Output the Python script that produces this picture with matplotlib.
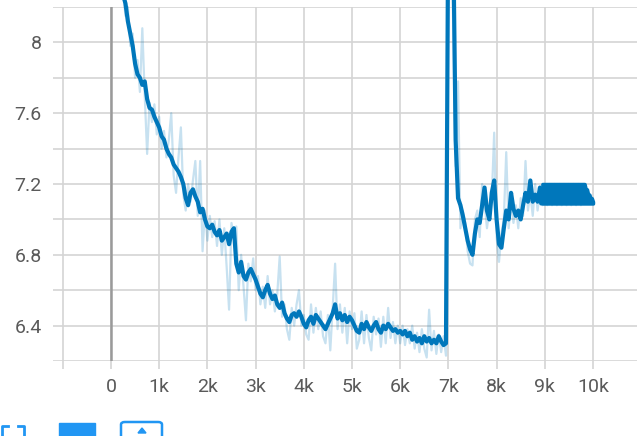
import matplotlib
matplotlib.use('Agg')
import matplotlib.pyplot as plt
from matplotlib.patches import Rectangle, FancyBboxPatch, Polygon
from matplotlib.lines import Line2D
import numpy as np

# smoothed curve, every 50 steps from 250 to 8900
smooth_a = [8.27, 8.22, 8.12, 8.05, 7.98, 7.88, 7.82, 7.80, 7.76, 7.78,
            7.68, 7.63, 7.62, 7.58, 7.55, 7.52, 7.47, 7.45, 7.40, 7.37,
            7.35, 7.31, 7.29, 7.27, 7.24, 7.20, 7.12, 7.08, 7.15, 7.17,
            7.13, 7.10, 7.04, 7.06, 7.00, 6.96, 6.95, 6.97, 6.93, 6.91,
            6.94, 6.88, 6.90, 6.92, 6.86, 6.93, 6.95, 6.75, 6.70, 6.76,
            6.68, 6.66, 6.70, 6.72, 6.69, 6.66, 6.62, 6.58, 6.56, 6.60,
            6.63, 6.58, 6.55, 6.57, 6.52, 6.50, 6.53, 6.47, 6.44, 6.42,
            6.46, 6.47, 6.45, 6.48, 6.45, 6.41, 6.39, 6.43, 6.45, 6.41,
            6.46, 6.44, 6.42, 6.40, 6.38, 6.41, 6.44, 6.47, 6.52, 6.44,
            6.47, 6.43, 6.46, 6.42, 6.45, 6.43, 6.40, 6.37, 6.36, 6.41,
            6.38, 6.42, 6.39, 6.37, 6.40, 6.42, 6.38, 6.36, 6.40, 6.38,
            6.41, 6.39, 6.37, 6.38, 6.36, 6.37, 6.35, 6.37, 6.34, 6.36,
            6.32, 6.34, 6.31, 6.33, 6.30, 6.34, 6.31, 6.33, 6.30, 6.32,
            6.30, 6.34, 6.31, 6.29, 6.30,
            8.90, 8.80, 8.60, 7.45, 7.12, 7.08, 7.02, 6.95, 6.88, 6.83,
            6.80, 6.92, 7.00, 6.98, 7.08, 7.18, 7.05, 7.00, 7.15, 7.22,
            7.00, 6.86, 6.84, 6.95, 7.05, 7.00, 7.15, 7.06, 7.02, 7.05,
            7.00, 7.08, 7.15, 7.10, 7.22, 7.10, 7.14, 7.10, 7.18]
# smoothed tail, every 25 steps from 8925 to 10000 (fast oscillation)
smooth_b = [7.09, 7.20, 7.09, 7.20, 7.09, 7.20, 7.09, 7.20, 7.09, 7.20,
            7.09, 7.20, 7.09, 7.20, 7.09, 7.20, 7.09, 7.20, 7.09, 7.20,
            7.09, 7.20, 7.09, 7.20, 7.09, 7.20, 7.09, 7.20, 7.09, 7.20,
            7.09, 7.20, 7.09, 7.20, 7.09, 7.20, 7.09, 7.17, 7.09, 7.14,
            7.09, 7.12, 7.09, 7.10]

# raw values, every 50 steps from 250 to 10000
raw = [8.30, 8.15, 8.20, 7.98, 8.05, 7.80, 7.90, 7.72, 8.08, 7.70,
       7.37, 7.66, 7.55, 7.65, 7.48, 7.58, 7.40, 7.50, 7.35, 7.45,
       7.60, 7.25, 7.15, 7.35, 7.52, 7.14, 7.05, 7.20, 7.10, 7.22,
       7.33, 7.02, 7.33, 6.82, 7.05, 6.88, 7.02, 6.90, 6.99, 6.85,
       7.00, 6.80, 6.95, 6.73, 6.49, 6.98, 6.90, 6.96, 6.60, 6.80,
       6.62, 6.43, 6.75, 6.65, 6.78, 6.60, 6.68, 6.52, 6.62, 6.50,
       6.68, 6.52, 6.60, 6.48, 6.58, 6.79, 6.45, 6.52, 6.38, 6.32,
       6.50, 6.40, 6.52, 6.60, 6.40, 6.46, 6.35, 6.32, 6.52, 6.36,
       6.50, 6.38, 6.48, 6.34, 6.30, 6.46, 6.26, 6.50, 6.75, 6.38,
       6.52, 6.36, 6.50, 6.30, 6.48, 6.38, 6.47, 6.27, 6.32, 6.48,
       6.30, 6.46, 6.33, 6.26, 6.45, 6.35, 6.44, 6.28, 6.45, 6.30,
       6.50, 6.33, 6.42, 6.30, 6.40, 6.30, 6.40, 6.29, 6.38, 6.30,
       6.40, 6.27, 6.36, 6.25, 6.38, 6.27, 6.22, 6.49, 6.26, 6.37,
       6.24, 6.35, 6.25, 6.34, 6.23,
       9.20, 8.70, 8.10, 7.30, 7.78, 6.95, 7.05, 6.98, 6.82, 6.75,
       6.74, 7.00, 7.05, 6.90, 7.20, 7.10, 6.95, 7.05, 7.12, 7.49,
       6.90, 6.76, 6.92, 7.00, 7.38, 6.95, 7.10, 6.98, 7.08, 6.95,
       7.12, 7.02, 7.33, 7.05, 7.15, 7.02, 7.20, 7.05, 7.15,
       7.08, 7.20, 7.08, 7.20, 7.08, 7.20, 7.08, 7.20, 7.08, 7.20,
       7.08, 7.20, 7.08, 7.20, 7.08, 7.20, 7.08, 7.20, 7.10, 7.15,
       7.10, 7.10]

x_ticks = [-1000, 0, 1000, 2000, 3000, 4000, 5000, 6000, 7000, 8000, 9000, 10000]
x_labels = ['', '0', '1k', '2k', '3k', '4k', '5k', '6k', '7k', '8k', '9k', '10k']
y_ticks = [6.4, 6.8, 7.2, 7.6, 8.0]
y_labels = ['6.4', '6.8', '7.2', '7.6', '8']
y_minor = [6.2, 6.6, 7.0, 7.4, 7.8, 8.2]

steps_a = 250 + 50 * np.arange(len(smooth_a))
steps_b = 8925 + 25 * np.arange(len(smooth_b))
raw_steps = 250 + 50 * np.arange(len(raw))

plt.rcParams['font.family'] = ['Roboto', 'DejaVu Sans']
blue = '#0077bb'
grid_c = '#d4d4d4'

fig = plt.figure(figsize=(6.37, 4.36), dpi=100)
ax = fig.add_axes([53/637, 75/436, 584/637, 354/436])

ax.set_xlim(-1203, 10913)
ax.set_ylim(6.2, 8.2)
ax.set_xticks(x_ticks)
ax.set_xticklabels(x_labels)
ax.set_yticks(y_ticks)
ax.set_yticklabels(y_labels)
ax.set_yticks(y_minor, minor=True)
ax.grid(which='both', color=grid_c, lw=1.2)
ax.set_axisbelow(True)
for s in ax.spines.values():
    s.set_visible(False)
ax.tick_params(axis='x', length=6, width=1.2, color=grid_c, pad=6,
               labelsize=14, labelcolor='#5a5a5a')
ax.tick_params(axis='y', which='both', length=0, pad=8,
               labelsize=14, labelcolor='#5a5a5a')
ax.axvline(0, color='#9a9a9a', lw=1.8, zorder=1.5)

ax.plot(raw_steps, raw, color=blue, alpha=0.22, lw=1.6, clip_on=False, zorder=3)
# smoothed line up to the start of the fast oscillation
ax.plot(list(steps_a) + [steps_b[0]], smooth_a + [smooth_b[0]], color=blue, lw=3.0,
        solid_joinstyle='round', solid_capstyle='round', clip_on=False, zorder=4)
# the fast oscillation at the end reads as a solid band: fill its envelope
sb = np.array(smooth_b)
ax.fill_between(steps_b[1:], np.minimum(sb[:-1], sb[1:]), np.maximum(sb[:-1], sb[1:]),
                facecolor=blue, edgecolor=blue, lw=2.5, joinstyle='round', zorder=4)

# toolbar icons cut off at the bottom
ic = '#2196f3'
W, H = 637, 436
def fx(px):
    return px / W
def fy(py):
    return (H - py) / H
fig.add_artist(Line2D([fx(2), fx(2), fx(8)], [fy(437), fy(426), fy(426)], color=ic, lw=2))
fig.add_artist(Line2D([fx(18), fx(24), fx(24)], [fy(426), fy(426), fy(437)], color=ic, lw=2))
fig.add_artist(Rectangle((fx(59), fy(440)), fx(95) - fx(59), fy(423) - fy(440),
                         transform=fig.transFigure, color=ic))
fig.add_artist(FancyBboxPatch((fx(121), fy(445)), fx(162) - fx(121), fy(422) - fy(445),
                              boxstyle='round,pad=0,rounding_size=0.006',
                              transform=fig.transFigure, fill=False, ec=ic, lw=1.8))
fig.add_artist(Polygon([[fx(138), fy(433)], [fx(146), fy(433)], [fx(142), fy(428)]],
                       closed=True, transform=fig.transFigure, color=ic))

fig.savefig('out.png', dpi=100)
